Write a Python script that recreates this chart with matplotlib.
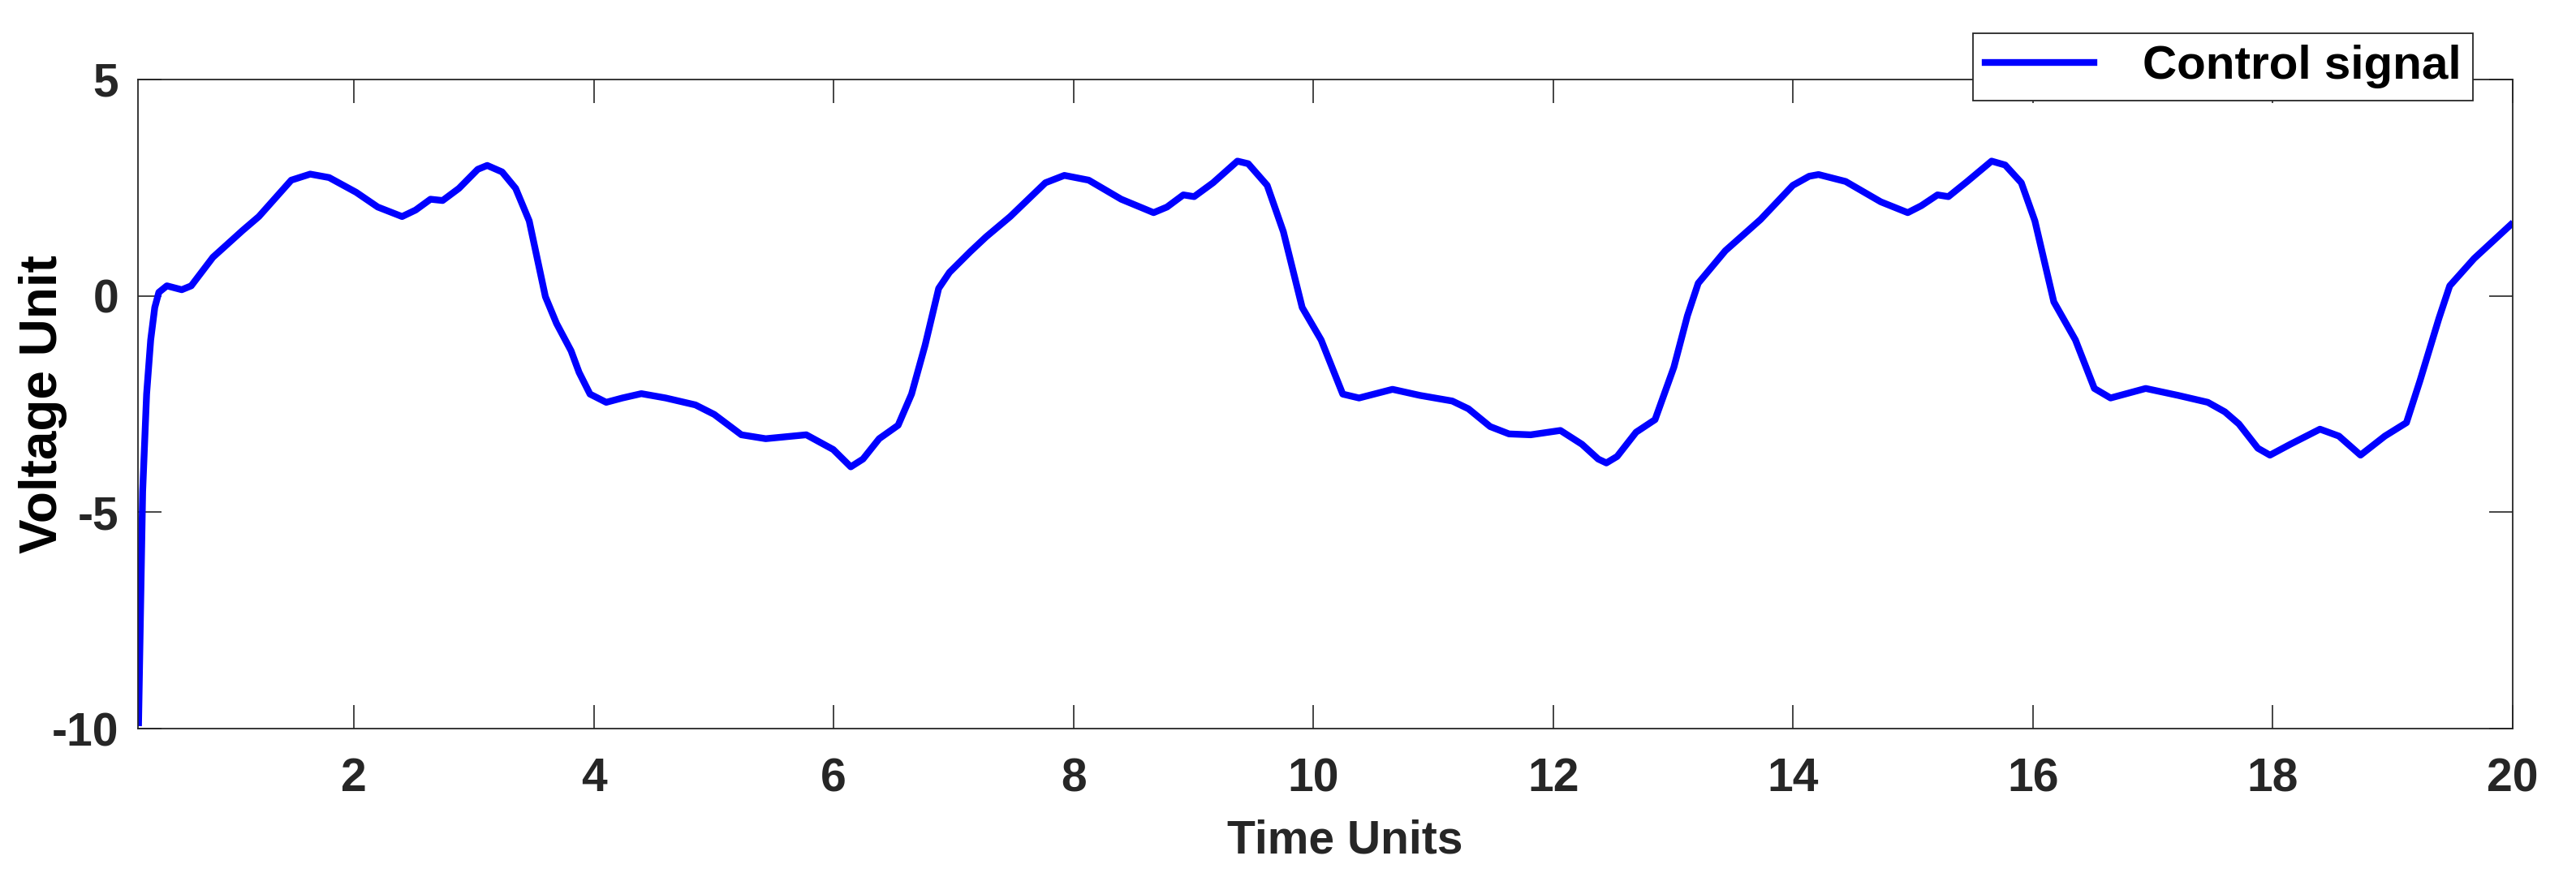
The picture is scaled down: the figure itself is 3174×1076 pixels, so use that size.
import matplotlib
matplotlib.use("Agg")
import matplotlib.pyplot as plt

# control signal
time = [0.205, 0.239, 0.272, 0.306, 0.340, 0.374, 0.441, 0.565, 0.644, 0.825,
        1.073, 1.208, 1.478, 1.636, 1.794, 2.019, 2.199, 2.402, 2.515, 2.639,
        2.740, 2.876, 3.033, 3.112, 3.236, 3.349, 3.462, 3.597, 3.690, 3.811,
        3.878, 3.969, 4.104, 4.239, 4.397, 4.600, 4.848, 5.005, 5.231, 5.434,
        5.772, 5.997, 6.143, 6.245, 6.380, 6.538, 6.650, 6.763, 6.876, 6.966,
        7.140, 7.271, 7.473, 7.766, 7.924, 8.127, 8.398, 8.668, 8.780, 8.916,
        9.006, 9.164, 9.367, 9.457, 9.615, 9.750, 9.907, 10.065, 10.245,
        10.381, 10.660, 10.888, 11.158, 11.293, 11.474, 11.632, 11.812,
        12.060, 12.240, 12.375, 12.443, 12.533, 12.691, 12.849, 13.006,
        13.119, 13.209, 13.435, 13.728, 13.998, 14.134, 14.212, 14.438,
        14.731, 14.956, 15.069, 15.204, 15.295, 15.452, 15.655, 15.768,
        15.903, 16.016, 16.174, 16.354, 16.512, 16.647, 16.940, 17.210,
        17.458, 17.600, 17.717, 17.875, 17.976, 18.145, 18.393, 18.551,
        18.731, 18.934, 19.114, 19.227, 19.385, 19.475, 19.678, 19.983]
control = [-9.86, -4.52, -2.27, -1.02, -0.27, 0.08, 0.23, 0.14, 0.23, 0.89,
           1.51, 1.83, 2.67, 2.81, 2.73, 2.39, 2.05, 1.83, 1.98, 2.23,
           2.20, 2.48, 2.92, 3.01, 2.86, 2.48, 1.73, -0.02, -0.64, -1.27,
           -1.77, -2.27, -2.46, -2.36, -2.26, -2.36, -2.52, -2.74, -3.21, -3.30,
           -3.21, -3.55, -3.95, -3.77, -3.30, -2.99, -2.27, -1.14, 0.17, 0.54,
           1.02, 1.36, 1.83, 2.61, 2.78, 2.67, 2.23, 1.92, 2.05, 2.33,
           2.29, 2.61, 3.11, 3.05, 2.55, 1.48, -0.27, -1.02, -2.27,
           -2.36, -2.16, -2.30, -2.43, -2.61, -3.02, -3.19, -3.21,
           -3.11, -3.43, -3.77, -3.86, -3.71, -3.15, -2.86, -1.65,
           -0.46, 0.29, 1.04, 1.76, 2.55, 2.76, 2.80, 2.64,
           2.17, 1.92, 2.08, 2.33, 2.29, 2.64, 3.11, 3.02,
           2.61, 1.73, -0.14, -1.02, -2.14, -2.36, -2.14, -2.30,
           -2.46, -2.68, -2.96, -3.52, -3.68, -3.43, -3.08, -3.24,
           -3.68, -3.24, -2.93, -1.96, -0.52, 0.23, 0.86, 1.64]

x_ticks = [2, 4, 6, 8, 10, 12, 14, 16, 18, 20]
y_ticks = [-10, -5, 0, 5]

plt.rcParams["font.family"] = ["Liberation Sans", "DejaVu Sans"]
plt.rcParams["font.weight"] = "bold"
plt.rcParams["axes.unicode_minus"] = False

DARK = "#262626"

fig = plt.figure(figsize=(31.74, 10.76), dpi=100)
ax = fig.add_axes([0.05356, 0.16515, 0.92187, 0.74405])

ax.plot(time, control, color="#0000ff", lw=6, label="Control signal")

ax.set_xlim(0.2, 20)
ax.set_ylim(-10, 5)
ax.set_xticks(x_ticks)
ax.set_yticks(y_ticks)
ax.tick_params(direction="in", length=21, width=1.2, colors=DARK,
               labelsize=41, top=True, right=True)
ax.tick_params(axis="x", pad=25)
ax.tick_params(axis="y", pad=17)
for lbl in ax.get_xticklabels() + ax.get_yticklabels():
    lbl.set_fontweight("bold")
for sp in ax.spines.values():
    sp.set_linewidth(1.3)
    sp.set_color(DARK)

ax.set_xlabel("Time Units", fontsize=41, fontweight="bold", color=DARK)
ax.xaxis.set_label_coords(0.5084, -0.1916)
ax.xaxis.label.set_va("baseline")

ax.set_ylabel("Voltage Unit", fontsize=46, fontweight="bold", color="black")
ax.yaxis.set_label_coords(-0.0342, 0.5)
ax.yaxis.label.set_rotation_mode("anchor")
ax.yaxis.label.set_va("baseline")

leg = ax.legend(loc="upper right", bbox_to_anchor=(0.96, 0.9622),
                bbox_transform=fig.transFigure, fontsize=42, fancybox=False,
                framealpha=1, edgecolor=DARK, handlelength=2.3,
                handletextpad=1.03, borderaxespad=0, borderpad=0.25)
leg.get_frame().set_linewidth(1.3)

fig.savefig("out.png", dpi=100)
